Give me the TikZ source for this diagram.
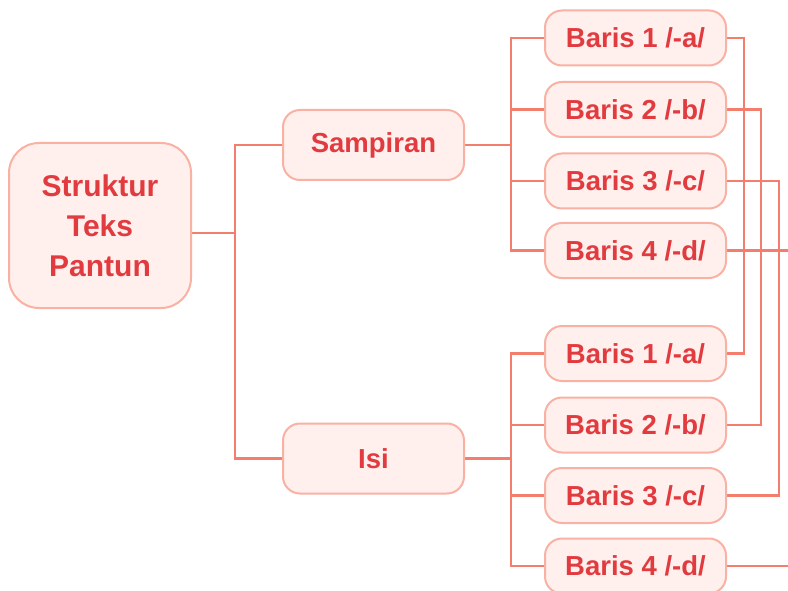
\documentclass[tikz,border=0pt]{standalone}
\usepackage{fontspec}
\setmainfont{Liberation Sans}
\usetikzlibrary{backgrounds}
\definecolor{txt}{HTML}{E23B3F}
\definecolor{boxfill}{HTML}{FFF0ED}
\definecolor{boxline}{HTML}{F9B1A3}
\definecolor{conn}{HTML}{F47E6E}
\begin{document}
\begin{tikzpicture}[x=1pt,y=-1pt,
  box/.style={draw=boxline,fill=boxfill,line width=2pt,rounded corners=17pt,
    text=txt,font=\fontsize{27.5}{33}\selectfont\bfseries,inner sep=0pt,align=center},
  rootbox/.style={box,rounded corners=30pt,font=\fontsize{30}{40}\selectfont\bfseries,
    minimum width=182pt,minimum height=165pt},
  midbox/.style={box,minimum width=181pt,minimum height=70pt},
  leafbox/.style={box,minimum width=181pt,minimum height=55pt},
  link/.style={draw=conn,line width=2.6pt}]
\useasboundingbox (0,0) rectangle (788,591);
\coordinate (t1) at (235,233);
\coordinate (t2) at (511,0);
\coordinate (r1) at (744,0);
\coordinate (r2) at (761,0);
\coordinate (r3) at (779,0);
\coordinate (rend) at (800,0);
% nodes
\node[rootbox] (root) at (100,225.5) {Struktur\\Teks\\Pantun};
\node[midbox] (samp) at (373.5,145) {Sampiran};
\node[midbox] (isi) at (373.5,458.5) {Isi};
\node[leafbox] (u1) at (635.5,38) {Baris 1 /-a/};
\node[leafbox] (u2) at (635.5,109.5) {Baris 2 /-b/};
\node[leafbox] (u3) at (635.5,181) {Baris 3 /-c/};
\node[leafbox] (u4) at (635.5,250.5) {Baris 4 /-d/};
\node[leafbox] (l1) at (635.5,353.5) {Baris 1 /-a/};
\node[leafbox] (l2) at (635.5,425) {Baris 2 /-b/};
\node[leafbox] (l3) at (635.5,495.5) {Baris 3 /-c/};
\node[leafbox] (l4) at (635.5,566) {Baris 4 /-d/};
\begin{scope}[on background layer]
\fill[white] (0,0) rectangle (788,591);
% root to mid
\path[link] (root.center |- t1) -- (t1);
\path[link] (samp.center) -| (t1) |- (isi.center);
% mid to leaves
\path[link] (samp.center) -- (t2 |- samp.center);
\path[link] (u1.center) -| (t2 |- u4.center) -- (u4.center);
\path[link] (t2 |- u2.center) -- (u2.center);
\path[link] (t2 |- u3.center) -- (u3.center);
\path[link] (isi.center) -- (t2 |- isi.center);
\path[link] (l1.center) -| (t2 |- l4.center) -- (l4.center);
\path[link] (t2 |- l2.center) -- (l2.center);
\path[link] (t2 |- l3.center) -- (l3.center);
% rhyme links
\path[link] (u1.center) -| (r1 |- l1.center) -- (l1.center);
\path[link] (u2.center) -| (r2 |- l2.center) -- (l2.center);
\path[link] (u3.center) -| (r3 |- l3.center) -- (l3.center);
\path[link] (u4.center) -- (rend |- u4.center);
\path[link] (l4.center) -- (rend |- l4.center);
\end{scope}
\end{tikzpicture}
\end{document}
